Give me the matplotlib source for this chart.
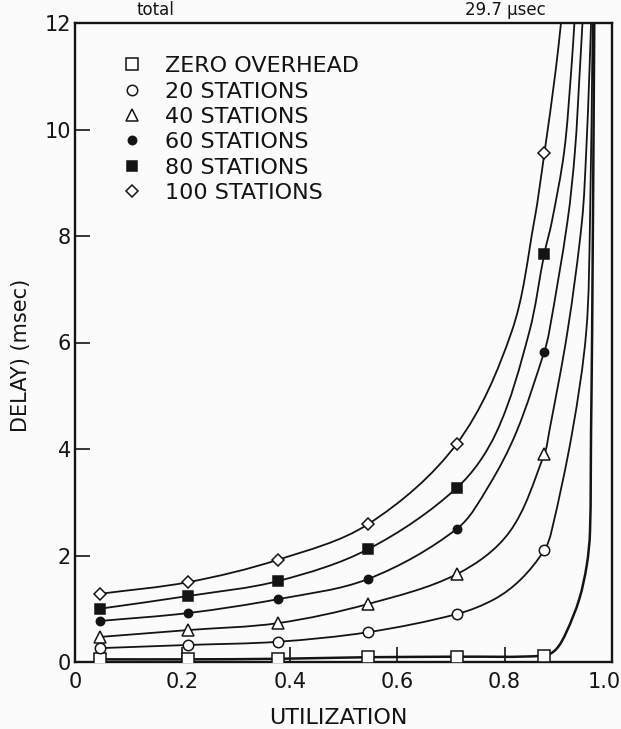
import matplotlib
matplotlib.use('Agg')
import numpy as np
import matplotlib.pyplot as plt
from matplotlib.lines import Line2D
from matplotlib.path import Path
from matplotlib.patches import PathPatch
from matplotlib.transforms import ScaledTranslation

plt.rcParams['font.family'] = ['DejaVu Sans']

# ---------------- data ----------------
series_labels = ['ZERO OVERHEAD', '20 STATIONS', '40 STATIONS',
                 '60 STATIONS', '80 STATIONS', '100 STATIONS']

# utilization of the plotted markers
util_markers = [0.046, 0.211, 0.378, 0.546, 0.711, 0.874]

# delay (msec) at the markers
delay_zero = [0.05, 0.05, 0.06, 0.09, 0.10, 0.12]
delay_20 = [0.26, 0.32, 0.38, 0.56, 0.90, 2.10]
delay_40 = [0.47, 0.60, 0.73, 1.09, 1.65, 3.90]
delay_60 = [0.77, 0.92, 1.18, 1.56, 2.50, 5.83]
delay_80 = [1.00, 1.24, 1.52, 2.12, 3.27, 7.67]
delay_100 = [1.28, 1.50, 1.92, 2.59, 4.10, 9.55]

# points (markers included)
curve_zero_x = [0.046, 0.211, 0.378, 0.546, 0.711, 0.874, 0.896, 0.915, 0.939, 0.953, 0.959, 0.961, 0.963, 0.967]
curve_zero_y = [0.05, 0.05, 0.06, 0.09, 0.10, 0.12, 0.24, 0.56, 1.18, 1.82, 2.44, 4.32, 6.20, 12.0]

curve_20_x = [0.046, 0.211, 0.378, 0.546, 0.711, 0.781, 0.83, 0.874, 0.887, 0.926, 0.952, 0.959, 0.964]
curve_20_y = [0.26, 0.32, 0.38, 0.56, 0.90, 1.18, 1.55, 2.10, 2.44, 4.32, 6.20, 8.27, 12.0]

curve_40_x = [0.046, 0.211, 0.378, 0.546, 0.711, 0.809, 0.874, 0.883, 0.917, 0.944, 0.952, 0.958, 0.961]
curve_40_y = [0.47, 0.60, 0.73, 1.09, 1.65, 2.44, 3.90, 4.32, 6.20, 8.27, 9.59, 11.1, 12.0]

curve_60_x = [0.046, 0.211, 0.378, 0.546, 0.711, 0.77, 0.822, 0.874, 0.883, 0.917, 0.931, 0.940, 0.945]
curve_60_y = [0.77, 0.92, 1.18, 1.56, 2.50, 3.30, 4.32, 5.83, 6.20, 8.27, 9.59, 11.1, 12.0]

curve_80_x = [0.046, 0.211, 0.378, 0.546, 0.711, 0.785, 0.846, 0.874, 0.888, 0.911, 0.924, 0.930]
curve_80_y = [1.00, 1.24, 1.52, 2.12, 3.27, 4.32, 6.20, 7.67, 8.27, 9.59, 11.1, 12.0]

curve_100_x = [0.046, 0.211, 0.378, 0.546, 0.711, 0.813, 0.855, 0.874, 0.895, 0.905]
curve_100_y = [1.28, 1.50, 1.92, 2.59, 4.10, 6.20, 8.27, 9.55, 11.1, 12.0]

xticks = [0, 0.2, 0.4, 0.6, 0.8, 1.0]
xtick_labels = ['0', '0.2', '0.4', '0.6', '0.8', '1.0']
yticks = [0, 2, 4, 6, 8, 10, 12]
ytick_labels = ['0', '2', '4', '6', '8', '10', '12']

# ---------------- drawing ----------------
INK = '#141414'
BG = '#fbfbfb'

fig = plt.figure(figsize=(6.21, 7.29), dpi=100)
fig.patch.set_facecolor(BG)
ax = fig.add_axes([75 / 621, 1 - 662 / 729, (612 - 75) / 621, (662 - 23) / 729])
ax.set_facecolor(BG)
ax.set_xlim(0, 1.0)
ax.set_ylim(0, 12)


def smooth_path(xs, ys):
    """Smooth Bezier path through the read points (shape computed in screen-like units)."""
    sx, sy = 537.0, 639.0 / 12.0
    P = np.column_stack([np.asarray(xs, float) * sx, np.asarray(ys, float) * sy])
    n = len(P)
    T = np.zeros_like(P)
    for i in range(n):
        d = P[min(i + 1, n - 1)] - P[max(i - 1, 0)]
        T[i] = d / np.hypot(*d)
    verts = [P[0]]
    codes = [Path.MOVETO]
    for i in range(n - 1):
        L = np.hypot(*(P[i + 1] - P[i]))
        verts += [P[i] + T[i] * L / 3.0, P[i + 1] - T[i + 1] * L / 3.0, P[i + 1]]
        codes += [Path.CURVE4] * 3
    V = np.array(verts)
    V[:, 0] /= sx
    V[:, 1] /= sy
    return Path(V, codes)


marker_vals = [delay_zero, delay_20, delay_40, delay_60, delay_80, delay_100]
curves = [(curve_zero_x, curve_zero_y), (curve_20_x, curve_20_y),
          (curve_40_x, curve_40_y), (curve_60_x, curve_60_y),
          (curve_80_x, curve_80_y), (curve_100_x, curve_100_y)]
styles = [dict(marker='s', ms=8.0, mfc='white'),
          dict(marker='o', ms=7.5, mfc='white'),
          dict(marker='^', ms=8.0, mfc='white'),
          dict(marker='o', ms=6.0, mfc=INK),
          dict(marker='s', ms=6.5, mfc=INK),
          dict(marker='D', ms=6.5, mfc='white')]
widths = [1.8, 1.3, 1.3, 1.3, 1.3, 1.3]

handles = []
for (cx, cy), vals, st, lw, lab in zip(curves, marker_vals, styles, widths, series_labels):
    patch = PathPatch(smooth_path(cx, cy), fill=False, ec=INK, lw=lw,
                      transform=ax.transData, zorder=2)
    patch.set_clip_path(ax.patch)
    ax.add_patch(patch)
    ax.plot(util_markers, vals, linestyle='none', mec=INK, mew=1.1, zorder=3, **st)
    handles.append(Line2D([], [], linestyle='none', mec=INK, mew=1.1, label=lab, **st))

ax.set_xticks(xticks)
ax.set_xticklabels(xtick_labels)
ax.set_yticks(yticks)
ax.set_yticklabels(ytick_labels)
ax.tick_params(direction='in', length=11, width=1.2, labelsize=15, colors=INK)
ax.tick_params(axis='x', pad=7)
ax.tick_params(axis='y', pad=3)
# keep the last x label inside the picture
last = ax.get_xticklabels()[-1]
last.set_transform(last.get_transform() + ScaledTranslation(-8 / 100, 0, fig.dpi_scale_trans))

for sp in ax.spines.values():
    sp.set_linewidth(1.7)
    sp.set_color(INK)

ax.set_xlabel('UTILIZATION', fontsize=16, color=INK)
ax.xaxis.set_label_coords(0.49, -0.072)
ax.set_ylabel('DELAY) (msec)', fontsize=15, color=INK)
ax.yaxis.set_label_coords(-0.082, 0.48)

leg = ax.legend(handles=handles, loc='upper left', bbox_to_anchor=(0.069, 0.962),
                frameon=False, fontsize=16, handlelength=1.0, handletextpad=1.0,
                labelspacing=0.24, borderaxespad=0.0)
for t in leg.get_texts():
    t.set_color(INK)

# header fragments at the top edge of the scan
fig.text(155 / 621, 0.999, 'total', fontsize=12, ha='center', va='top', color=INK)
fig.text(505 / 621, 0.999, '29.7 μsec', fontsize=12, ha='center', va='top', color=INK)

fig.savefig('out.png', dpi=100, facecolor=BG)
